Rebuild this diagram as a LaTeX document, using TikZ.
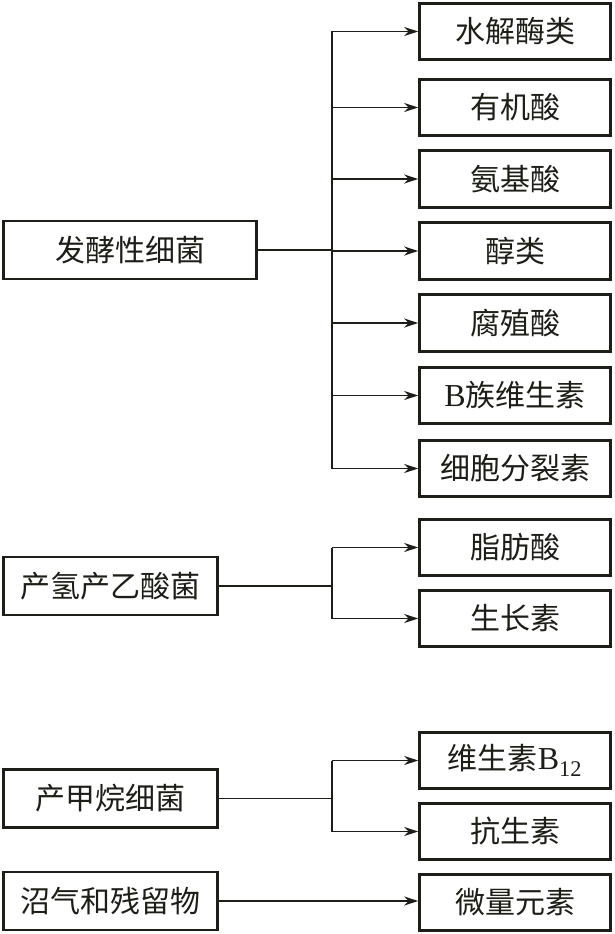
\documentclass[tikz,border=0pt]{standalone}
\usepackage{fontspec}
\setmainfont{Liberation Serif}
\newfontfamily\cjk{Noto Sans CJK SC}
\usetikzlibrary{arrows.meta}
\definecolor{ink}{HTML}{1E1E18}
\tikzset{
  box/.style={draw=ink, line width=2.6pt, inner sep=0pt, text=ink,
    font=\cjk\fontsize{30}{35}\selectfont},
  rbox/.style={box, minimum width=191pt, minimum height=56.5pt},
  lbox/.style={box, minimum width=214pt, minimum height=58pt},
  conn/.style={draw=ink, line width=1.3pt},
  arr/.style={conn, -{Stealth[length=14pt,width=9pt]}}
}
\begin{document}
\begin{tikzpicture}[x=1pt,y=-1pt]
\useasboundingbox[fill=white] (0,0) rectangle (614,934);
% right boxes
\node[rbox] (R1) at (515,31.5) {水解酶类};
\node[rbox] (R2) at (515,107.5) {有机酸};
\node[rbox] (R3) at (515,179) {氨基酸};
\node[rbox] (R4) at (515,251) {醇类};
\node[rbox] (R5) at (515,323) {腐殖酸};
\node[rbox] (R6) at (515,395.5) {{\rmfamily\fontsize{32}{35}\selectfont B}族维生素};
\node[rbox] (R7) at (515,468.5) {细胞分裂素};
\node[rbox] (R8) at (515,547.5) {脂肪酸};
\node[rbox] (R9) at (515,618.5) {生长素};
\node[rbox] (R10) at (515,760.5) {维生素{\rmfamily\fontsize{32}{35}\selectfont B\textsubscript{12}}};
\node[rbox] (R11) at (515,831.5) {抗生素};
\node[rbox] (R12) at (515,902.5) {微量元素};
% left boxes
\node[lbox, minimum width=253pt] (L1) at (130,250) {发酵性细菌};
\node[lbox] (L2) at (110.5,586) {产氢产乙酸菌};
\node[lbox] (L3) at (110.5,798.5) {产甲烷细菌};
\node[lbox] (L4) at (110.5,901) {沼气和残留物};
% junctions
\coordinate (j1) at (332,250);
\coordinate (j2) at (332,586);
\coordinate (j3) at (332,798.5);
% group 1
\draw[conn] (L1.east) -- (j1);
\draw[conn] (j1 |- R1.west) -- (j1 |- R7.west);
\foreach \r in {R1,R2,R3,R4,R5,R6,R7}
  \draw[arr] (j1 |- \r.west) -- (\r.west);
% group 2
\draw[conn] (L2.east) -- (j2);
\draw[conn] (j2 |- R8.west) -- (j2 |- R9.west);
\foreach \r in {R8,R9}
  \draw[arr] (j2 |- \r.west) -- (\r.west);
% group 3
\draw[conn] (L3.east) -- (j3);
\draw[conn] (j3 |- R10.west) -- (j3 |- R11.west);
\foreach \r in {R10,R11}
  \draw[arr] (j3 |- \r.west) -- (\r.west);
% group 4
\draw[arr] (L4.east) -- (L4.east -| R12.west);
\end{tikzpicture}
\end{document}
